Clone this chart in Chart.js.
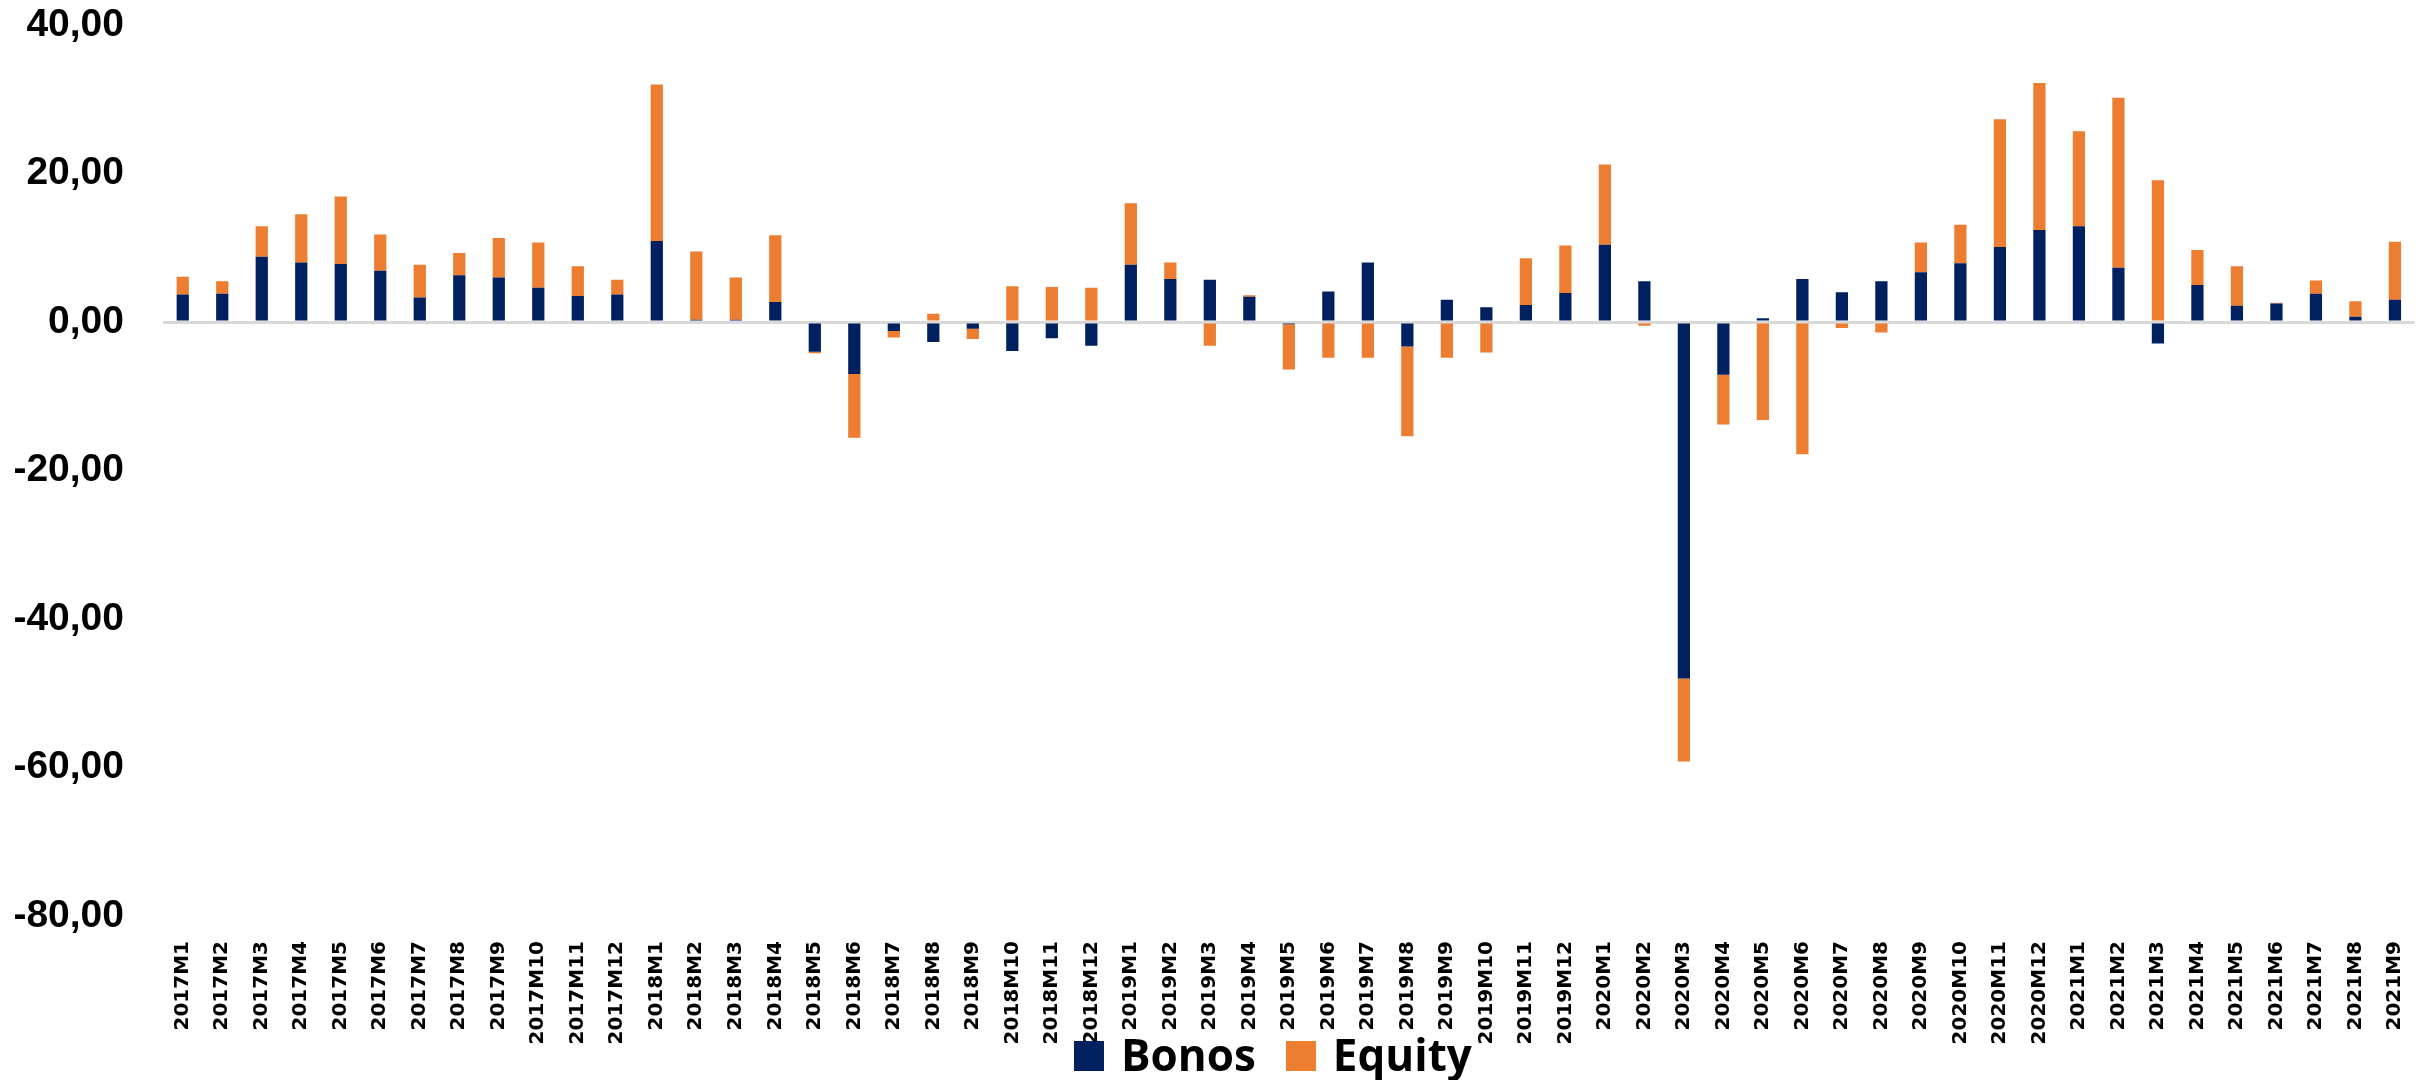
<!DOCTYPE html>
<html>
<head>
<meta charset="utf-8">
<script src="https://cdn.jsdelivr.net/npm/chart.js@4.4.0/dist/chart.umd.min.js"></script>
<style>
    body { margin: 0; background: #fff; }
    #wrap { position: relative; width: 2436px; height: 1080px; }
    #legend { position: absolute; left: 1074px; top: 1032px; display: flex; font-family: "Open Sans", sans-serif; font-weight: bold; font-size: 44px; line-height: 44px; color: #000; }
    .item { display: flex; align-items: flex-start; margin-right: 30px; }
    .box { width: 30px; height: 30px; margin-top: 9px; margin-right: 17px; }
</style>
</head>
<body>
<div id="wrap">
    <canvas id="myChart" width="2436" height="1080"></canvas>
    <div id="legend"></div>
</div>
<script>
const months = ['2017M1','2017M2','2017M3','2017M4','2017M5','2017M6','2017M7','2017M8','2017M9','2017M10','2017M11','2017M12',
    '2018M1','2018M2','2018M3','2018M4','2018M5','2018M6','2018M7','2018M8','2018M9','2018M10','2018M11','2018M12',
    '2019M1','2019M2','2019M3','2019M4','2019M5','2019M6','2019M7','2019M8','2019M9','2019M10','2019M11','2019M12',
    '2020M1','2020M2','2020M3','2020M4','2020M5','2020M6','2020M7','2020M8','2020M9','2020M10','2020M11','2020M12',
    '2021M1','2021M2','2021M3','2021M4','2021M5','2021M6','2021M7','2021M8','2021M9'];

const bonos = [3.7, 3.8, 8.8, 8.0, 7.8, 6.9, 3.3, 6.3, 6.0, 4.6, 3.5, 3.7,
    10.9, 0.3, 0.3, 2.7, -4.0, -7.0, -1.2, -2.7, -0.9, -3.9, -2.2, -3.2,
    7.7, 5.8, 5.7, 3.4, -0.3, 4.1, 8.0, -3.3, 3.0, 2.0, 2.3, 3.9,
    10.4, 5.5, -48.0, -7.1, 0.5, 5.8, 4.0, 5.5, 6.7, 7.9, 10.1, 12.4,
    12.9, 7.3, -2.9, 5.0, 2.2, 2.5, 3.8, 0.7, 3.0];

const equity = [2.4, 1.7, 4.1, 6.5, 9.1, 4.9, 4.4, 3.0, 5.3, 6.1, 4.0, 2.0,
    21.1, 9.2, 5.7, 9.0, -0.2, -8.6, -0.9, 1.1, -1.4, 4.8, 4.7, 4.6,
    8.3, 2.2, -3.2, 0.2, -6.1, -4.8, -4.8, -12.1, -4.8, -4.1, 6.3, 6.4,
    10.8, -0.5, -11.2, -6.7, -13.2, -17.8, -0.8, -1.4, 4.0, 5.2, 17.2, 19.8,
    12.8, 22.9, 19.1, 4.7, 5.3, 0.1, 1.8, 2.1, 7.8];

const seriesNames = ['Bonos', 'Equity'];
const seriesColors = ['#002060', '#ED7D31'];
const yTicks = [-80, -60, -40, -20, 0, 20, 40];

const ctx = document.getElementById('myChart').getContext('2d');
const chart = new Chart(ctx, {
    type: 'bar',
    data: {
        labels: months,
        datasets: [{
            label: seriesNames[0],
            data: bonos,
            backgroundColor: seriesColors[0],
            barPercentage: 0.31,
            categoryPercentage: 1
        }, {
            label: seriesNames[1],
            data: equity,
            backgroundColor: seriesColors[1],
            barPercentage: 0.31,
            categoryPercentage: 1
        }]
    },
    options: {
        responsive: false,
        animation: false,
        devicePixelRatio: 1,
        layout: { padding: { top: 25, right: 7, left: 0, bottom: 0 } },
        plugins: {
            legend: { display: false },
            tooltip: { enabled: false }
        },
        scales: {
            x: {
                stacked: true,
                grid: { display: false },
                border: { display: false },
                ticks: {
                    autoSkip: false,
                    maxRotation: 90,
                    minRotation: 90,
                    padding: 17,
                    color: '#000',
                    font: { family: 'DejaVu Sans', weight: 'bold', size: 20 }
                },
                afterFit(scale) { scale.height = 164; }
            },
            y: {
                stacked: true,
                min: yTicks[0],
                max: yTicks[yTicks.length - 1],
                border: { display: false },
                grid: {
                    drawTicks: false,
                    lineWidth: 3,
                    color: c => (c.tick && c.tick.value === 0) ? '#d9d9d9' : 'rgba(0,0,0,0)'
                },
                afterBuildTicks(scale) { scale.ticks = yTicks.map(v => ({ value: v })); },
                afterFit(scale) {
                    scale.width = 163;
                    scale.paddingTop = 0;
                    scale.paddingBottom = 0;
                },
                ticks: {
                    padding: 39,
                    color: '#000',
                    font: { family: 'Liberation Sans', weight: 'bold', size: 39 },
                    callback: v => v.toFixed(2).replace('.', ',')
                }
            }
        }
    }
});

// legend below the axis, like the original
const legendBox = document.getElementById('legend');
seriesNames.forEach((name, i) => {
    const item = document.createElement('div');
    item.className = 'item';
    item.innerHTML = `<span class="box" style="background:${seriesColors[i]}"></span><span>${name}</span>`;
    legendBox.append(item);
});
</script>
</body>
</html>
